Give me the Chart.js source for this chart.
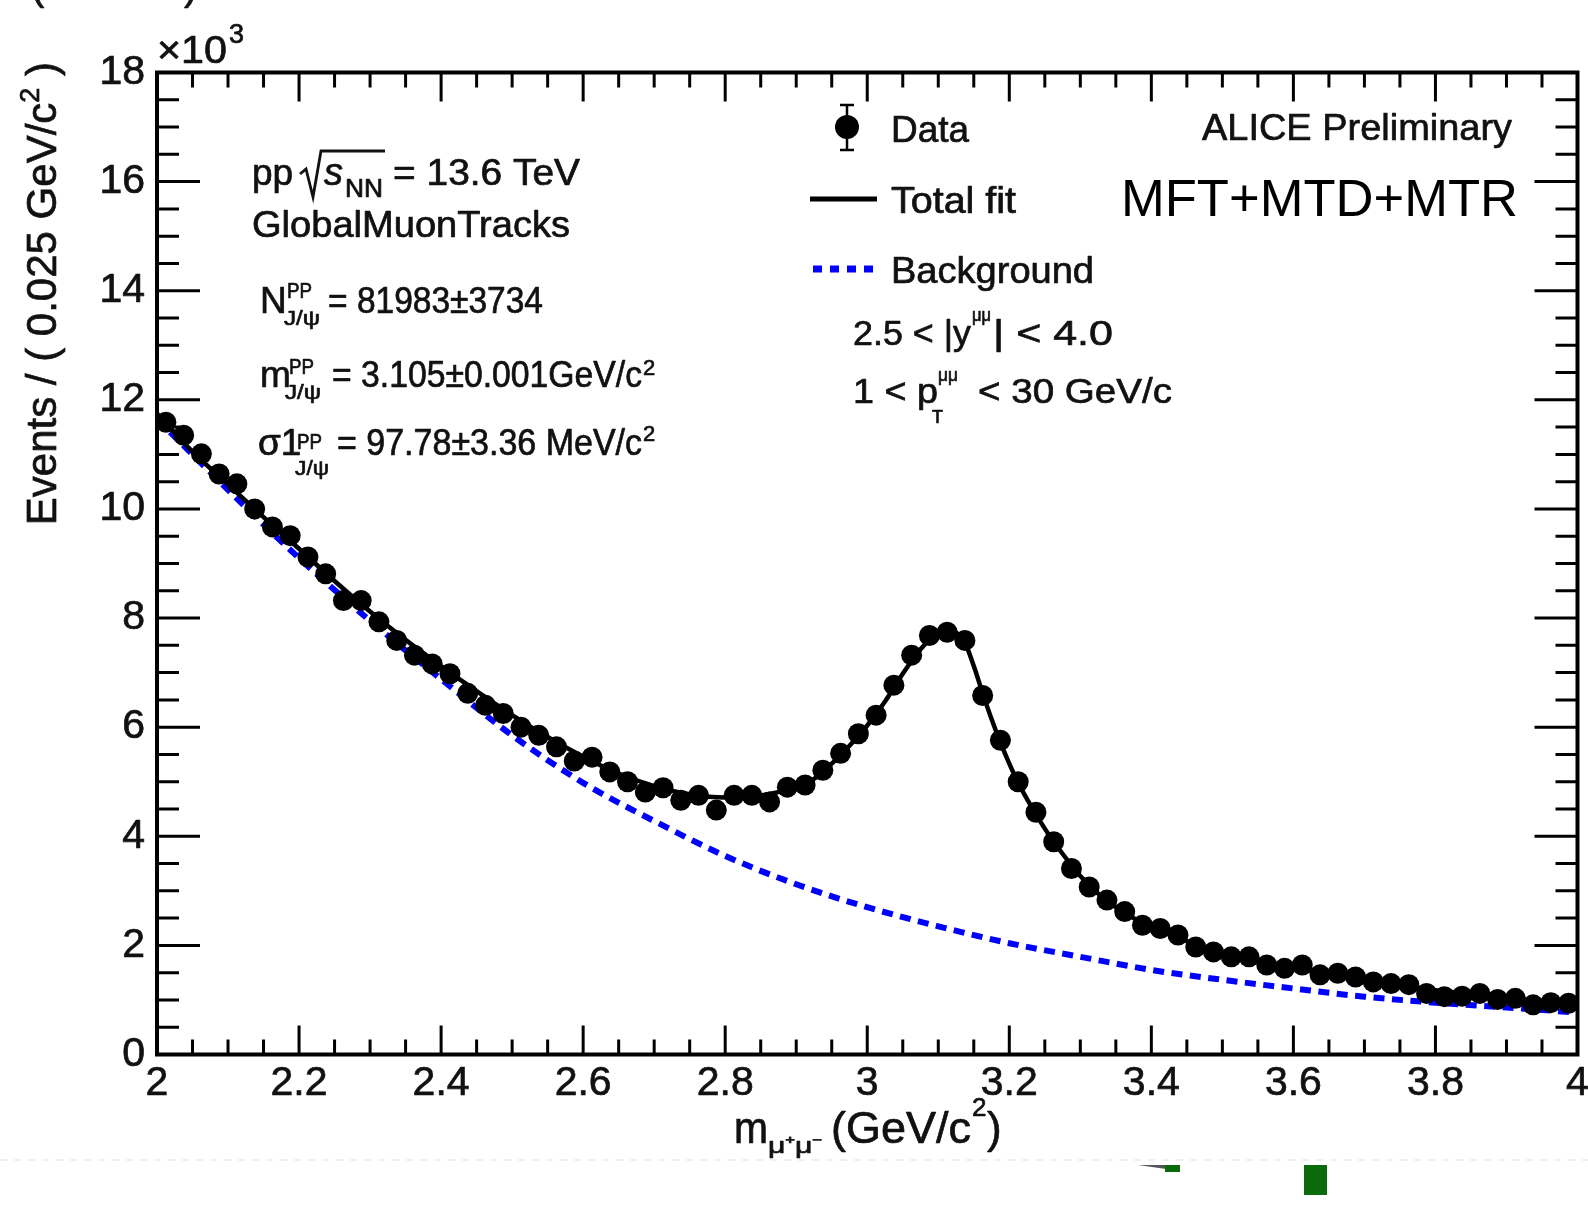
<!DOCTYPE html>
<html>
<head>
<meta charset="utf-8">
<title>J/psi dimuon invariant mass</title>
<script src="https://cdn.jsdelivr.net/npm/chart.js@4.4.1/dist/chart.umd.min.js"></script>
<style>
  html, body { margin: 0; padding: 0; background: #ffffff; }
  #wrap { position: relative; width: 1588px; height: 1209px; overflow: hidden; }
  canvas { display: block; }
</style>
</head>
<body>
<div id="wrap"><canvas id="massPlot" width="1588" height="1209"></canvas></div>
<script>
// Bin centres of the dimuon invariant-mass histogram (GeV/c^2), 25 MeV bins
const massBins = [
  2.0125, 2.0375, 2.0625, 2.0875, 2.1125, 2.1375, 2.1625, 2.1875, 2.2125, 2.2375,
  2.2625, 2.2875, 2.3125, 2.3375, 2.3625, 2.3875, 2.4125, 2.4375, 2.4625, 2.4875,
  2.5125, 2.5375, 2.5625, 2.5875, 2.6125, 2.6375, 2.6625, 2.6875, 2.7125, 2.7375,
  2.7625, 2.7875, 2.8125, 2.8375, 2.8625, 2.8875, 2.9125, 2.9375, 2.9625, 2.9875,
  3.0125, 3.0375, 3.0625, 3.0875, 3.1125, 3.1375, 3.1625, 3.1875, 3.2125, 3.2375,
  3.2625, 3.2875, 3.3125, 3.3375, 3.3625, 3.3875, 3.4125, 3.4375, 3.4625, 3.4875,
  3.5125, 3.5375, 3.5625, 3.5875, 3.6125, 3.6375, 3.6625, 3.6875, 3.7125, 3.7375,
  3.7625, 3.7875, 3.8125, 3.8375, 3.8625, 3.8875, 3.9125, 3.9375, 3.9625, 3.9875
];

// Events per bin
const eventCounts = [
  11590, 11350, 11010, 10640, 10460, 10000, 9670, 9510, 9120, 8810,
  8320, 8320, 7930, 7590, 7320, 7160, 6980, 6620, 6400, 6250,
  6000, 5850, 5640, 5380, 5450, 5180, 5000, 4810, 4890, 4660,
  4750, 4480, 4750, 4750, 4630, 4900, 4940, 5210, 5520, 5880,
  6220, 6770, 7320, 7680, 7740, 7590, 6580, 5760, 5000, 4440,
  3900, 3410, 3070, 2830, 2620, 2370, 2310, 2190, 1970, 1880,
  1790, 1790, 1640, 1580, 1640, 1460, 1490, 1420, 1330, 1300,
  1280, 1120, 1060, 1070, 1120, 1010, 1030, 910, 950, 940
];

// Total fit (signal + background) sampled along the mass axis
const fitMass = [
  2.000, 2.050, 2.100, 2.150, 2.200, 2.250, 2.300, 2.350, 2.400, 2.450,
  2.500, 2.550, 2.600, 2.650, 2.700, 2.750, 2.800, 2.850, 2.900, 2.925,
  2.950, 2.975, 3.000, 3.025, 3.050, 3.075, 3.100, 3.115, 3.125, 3.1375,
  3.150, 3.1625, 3.175, 3.1875, 3.200, 3.2125, 3.225, 3.2375, 3.250, 3.2625,
  3.275, 3.2875, 3.300, 3.325, 3.350, 3.375, 3.400, 3.450, 3.500, 3.550,
  3.600, 3.650, 3.700, 3.750, 3.800, 3.850, 3.900, 3.950, 4.000
];
const fitValues = [
  11750, 11050, 10450, 9850, 9270, 8680, 8120, 7600, 7120, 6660,
  6220, 5820, 5460, 5150, 4920, 4770, 4710, 4750, 4900, 5050,
  5330, 5660, 6030, 6470, 6980, 7430, 7720, 7780, 7740, 7550,
  7120, 6620, 6150, 5720, 5330, 4980, 4680, 4400, 4140, 3900,
  3680, 3470, 3270, 2950, 2700, 2500, 2340, 2080, 1870, 1710,
  1580, 1470, 1370, 1270, 1180, 1100, 1030, 970, 910
];

// Background component of the fit
const bkgMass = [
  2.0, 2.1, 2.2, 2.3, 2.4, 2.5, 2.6, 2.7, 2.8, 2.9, 3.0,
  3.1, 3.2, 3.3, 3.4, 3.5, 3.6, 3.7, 3.8, 3.9, 4.0
];
const bkgValues = [
  11650, 10350, 9100, 7950, 6880, 5850, 4980, 4280, 3640, 3120, 2700,
  2350, 2040, 1790, 1550, 1370, 1210, 1060, 950, 860, 770
];

// Axis ranges and tick steps
const xRange = [2, 4];
const yRange = [0, 18000];
const xMajorStep = 0.2, xMinorStep = 0.05;
const yMajorStep = 2000, yMinorStep = 500;

const FONT = '"Liberation Sans", Arial, Helvetica, sans-serif';
const INK = '#111111';
const INK_STROKE = 0.7;

function setFont(ctx, size, italic) {
  ctx.font = (italic ? 'italic ' : '') + size + 'px ' + FONT;
}

// Draw a single text run, optionally squeezed to a given width
function txt(ctx, str, x, y, size, opt) {
  opt = opt || {};
  ctx.save();
  setFont(ctx, size, opt.italic);
  ctx.fillStyle = opt.color || INK;
  ctx.strokeStyle = opt.color || INK;
  ctx.lineJoin = 'round';
  ctx.textBaseline = 'alphabetic';
  ctx.textAlign = 'left';
  const natural = ctx.measureText(str).width;
  const sx = opt.width ? opt.width / natural : 1;
  ctx.translate(x, y);
  ctx.scale(sx, 1);
  ctx.fillText(str, 0, 0);
  const sw = opt.stroke === undefined ? INK_STROKE : opt.stroke;
  if (sw > 0) { ctx.lineWidth = sw; ctx.strokeText(str, 0, 0); }
  ctx.restore();
}

const rootStyle = {
  id: 'rootStyle',
  afterDraw(chart) {
    const ctx = chart.ctx;
    const xs = chart.scales.x, ys = chart.scales.y;
    const { left, right, top, bottom } = chart.chartArea;

    // Inward ticks on all four sides
    ctx.save();
    ctx.strokeStyle = '#000';
    ctx.lineWidth = 3;
    ctx.beginPath();
    const nx = Math.round((xRange[1] - xRange[0]) / xMinorStep);
    const perMajorX = Math.round(xMajorStep / xMinorStep);
    for (let k = 0; k <= nx; k++) {
      const px = xs.getPixelForValue(xRange[0] + k * xMinorStep);
      const len = (k % perMajorX === 0) ? 29 : 15;
      ctx.moveTo(px, bottom); ctx.lineTo(px, bottom - len);
      ctx.moveTo(px, top); ctx.lineTo(px, top + len);
    }
    const ny = Math.round((yRange[1] - yRange[0]) / yMinorStep);
    const perMajorY = Math.round(yMajorStep / yMinorStep);
    for (let k = 0; k <= ny; k++) {
      const py = ys.getPixelForValue(yRange[0] + k * yMinorStep);
      const len = (k % perMajorY === 0) ? 43 : 22;
      ctx.moveTo(left, py); ctx.lineTo(left + len, py);
      ctx.moveTo(right, py); ctx.lineTo(right - len, py);
    }
    ctx.stroke();
    ctx.lineWidth = 4;
    ctx.strokeRect(left, top, right - left, bottom - top);
    ctx.restore();

    // Exponent of the y axis
    txt(ctx, '\u00d710', 157, 63, 38, { width: 70 });
    txt(ctx, '3', 229, 43, 27);

    // Y-axis title, reading upwards and ending near the top of the frame
    ctx.save();
    ctx.translate(56, 62);
    ctx.rotate(-Math.PI / 2);
    ctx.fillStyle = INK; ctx.strokeStyle = INK; ctx.lineWidth = INK_STROKE;
    setFont(ctx, 42);
    const tMain = 'Events / ( 0.025 GeV/c', tSup = '2', tEnd = ' )';
    const wMain = ctx.measureText(tMain).width;
    const wEnd = ctx.measureText(tEnd).width;
    setFont(ctx, 27);
    const wSup = ctx.measureText(tSup).width;
    const start = -(wMain + wSup + wEnd);
    setFont(ctx, 42);
    ctx.fillText(tMain, start, 0); ctx.strokeText(tMain, start, 0);
    setFont(ctx, 27);
    ctx.fillText(tSup, start + wMain, -17); ctx.strokeText(tSup, start + wMain, -17);
    setFont(ctx, 42);
    ctx.fillText(tEnd, start + wMain + wSup, 0); ctx.strokeText(tEnd, start + wMain + wSup, 0);
    ctx.restore();

    // X-axis title: m_{mu+ mu-} (GeV/c^2)
    txt(ctx, 'm', 734, 1143, 44, { width: 34 });
    txt(ctx, '\u03bc\u207a\u03bc\u207b', 768, 1153, 22, { width: 54 });
    txt(ctx, '(GeV/c', 831, 1143, 44, { width: 140 });
    txt(ctx, '2', 972, 1116, 26);
    txt(ctx, ')', 987, 1143, 44);

    // Left text block
    txt(ctx, 'pp', 252, 185, 37);
    ctx.save();
    ctx.strokeStyle = INK; ctx.lineWidth = 2.8; ctx.lineJoin = 'miter';
    ctx.beginPath();
    ctx.moveTo(300, 174); ctx.lineTo(306, 169); ctx.lineTo(313, 197);
    ctx.lineTo(321, 151); ctx.lineTo(385, 151);
    ctx.stroke();
    ctx.restore();
    txt(ctx, 's', 324, 185, 38, { italic: true });
    txt(ctx, 'NN', 345, 197, 25, { width: 38 });
    txt(ctx, '= 13.6 TeV', 393, 185, 37, { width: 187 });
    txt(ctx, 'GlobalMuonTracks', 252, 237, 37, { width: 318 });

    txt(ctx, 'N', 260, 313, 37);
    txt(ctx, 'PP', 287, 298, 22, { width: 25 });
    txt(ctx, 'J/\u03c8', 284, 325, 21, { width: 36 });
    txt(ctx, '= 81983\u00b13734', 328, 313, 37, { width: 215 });

    txt(ctx, 'm', 260, 387, 37);
    txt(ctx, 'PP', 289, 374, 22, { width: 25 });
    txt(ctx, 'J/\u03c8', 285, 399, 21, { width: 36 });
    txt(ctx, '= 3.105\u00b10.001GeV/c', 332, 387, 37, { width: 310 });
    txt(ctx, '2', 643, 375, 22);

    txt(ctx, '\u03c31', 258, 455, 37);
    txt(ctx, 'PP', 297, 449, 22, { width: 25 });
    txt(ctx, 'J/\u03c8', 295, 475, 21, { width: 34 });
    txt(ctx, '= 97.78\u00b13.36 MeV/c', 337, 455, 37, { width: 305 });
    txt(ctx, '2', 643, 441, 22);

    // Legend
    ctx.save();
    ctx.fillStyle = '#000'; ctx.strokeStyle = '#000';
    ctx.lineWidth = 2.5;
    ctx.beginPath();
    ctx.moveTo(847, 105); ctx.lineTo(847, 150);
    ctx.moveTo(840, 105); ctx.lineTo(854, 105);
    ctx.moveTo(840, 150); ctx.lineTo(854, 150);
    ctx.stroke();
    ctx.beginPath(); ctx.arc(847, 127, 12, 0, Math.PI * 2); ctx.fill();
    ctx.lineWidth = 5;
    ctx.beginPath(); ctx.moveTo(810, 199); ctx.lineTo(877, 199); ctx.stroke();
    ctx.strokeStyle = '#0000ff'; ctx.lineWidth = 7; ctx.setLineDash([9, 8]);
    ctx.beginPath(); ctx.moveTo(813, 269); ctx.lineTo(880, 269); ctx.stroke();
    ctx.restore();
    txt(ctx, 'Data', 891, 142, 37, { width: 78 });
    txt(ctx, 'Total fit', 891, 213, 37, { width: 125 });
    txt(ctx, 'Background', 891, 283, 37, { width: 203 });

    txt(ctx, '2.5 < |y', 853, 345, 35, { width: 118 });
    txt(ctx, '\u03bc\u03bc', 972, 321, 18, { width: 19 });
    txt(ctx, '| < 4.0', 993, 345, 35, { width: 120 });

    txt(ctx, '1 < p', 853, 403, 35, { width: 85 });
    txt(ctx, '\u03bc\u03bc', 938, 381, 18, { width: 20 });
    txt(ctx, 'T', 932, 423, 18);
    txt(ctx, '< 30 GeV/c', 978, 403, 35, { width: 194 });

    txt(ctx, 'ALICE Preliminary', 1202, 140, 37, { width: 310 });
    txt(ctx, 'MFT+MTD+MTR', 1121, 216, 52, { width: 397, color: '#000000', stroke: 0 });

    // Fragments along the page edges
    txt(ctx, '(', 31, 0, 40);
    txt(ctx, ')', 184, 0, 40);
    ctx.save();
    ctx.strokeStyle = '#efefef'; ctx.lineWidth = 2; ctx.setLineDash([7, 7]);
    ctx.beginPath(); ctx.moveTo(0, 1160); ctx.lineTo(1588, 1160); ctx.stroke();
    ctx.restore();
    ctx.save();
    ctx.fillStyle = '#555';
    ctx.beginPath(); ctx.moveTo(1138, 1165); ctx.lineTo(1166, 1165); ctx.lineTo(1166, 1169); ctx.closePath(); ctx.fill();
    ctx.fillStyle = '#0b6b0b';
    ctx.fillRect(1165, 1165, 15, 7);
    ctx.fillRect(1304, 1165, 23, 30);
    ctx.restore();
  }
};

const pointsOf = (xsArr, ysArr) => xsArr.map((x, i) => ({ x: x, y: ysArr[i] }));

new Chart(document.getElementById('massPlot'), {
  type: 'scatter',
  data: {
    datasets: [
      {
        label: 'Background',
        type: 'line',
        data: pointsOf(bkgMass, bkgValues),
        showLine: true,
        borderColor: '#0000ff',
        borderWidth: 6,
        borderDash: [11, 7.5],
        borderCapStyle: 'butt',
        pointRadius: 0,
        fill: false,
        cubicInterpolationMode: 'monotone',
        order: 3
      },
      {
        label: 'Total fit',
        type: 'line',
        data: pointsOf(fitMass, fitValues),
        showLine: true,
        borderColor: '#000000',
        borderWidth: 4.5,
        pointRadius: 0,
        fill: false,
        cubicInterpolationMode: 'monotone',
        order: 2
      },
      {
        label: 'Data',
        data: pointsOf(massBins, eventCounts),
        backgroundColor: '#000000',
        borderWidth: 0,
        pointRadius: 10.5,
        pointStyle: 'circle',
        order: 1
      }
    ]
  },
  options: {
    responsive: false,
    animation: false,
    devicePixelRatio: 1,
    layout: { padding: { left: 0, top: 72.5, right: 8, bottom: 0 } },
    plugins: { legend: { display: false }, tooltip: { enabled: false } },
    scales: {
      x: {
        type: 'linear',
        position: 'bottom',
        min: xRange[0], max: xRange[1],
        grid: { display: false, drawTicks: false },
        border: { display: false },
        ticks: {
          stepSize: xMajorStep,
          autoSkip: false,
          maxRotation: 0,
          padding: 5,
          color: INK,
          textStrokeColor: INK,
          textStrokeWidth: INK_STROKE,
          font: { family: FONT, size: 41 },
          callback: (v) => String(Number(v.toFixed(1)))
        },
        afterFit(s) { s.height = 154.5; s.paddingLeft = 0; s.paddingRight = 0; }
      },
      y: {
        type: 'linear',
        position: 'left',
        min: yRange[0], max: yRange[1],
        grid: { display: false, drawTicks: false },
        border: { display: false },
        ticks: {
          stepSize: yMajorStep,
          autoSkip: false,
          padding: 12,
          color: INK,
          textStrokeColor: INK,
          textStrokeWidth: INK_STROKE,
          font: { family: FONT, size: 41 },
          callback: (v) => String(Math.round(v / 1000))
        },
        afterFit(s) { s.width = 157; s.paddingTop = 0; s.paddingBottom = 0; }
      }
    }
  },
  plugins: [rootStyle]
});
</script>
</body>
</html>
